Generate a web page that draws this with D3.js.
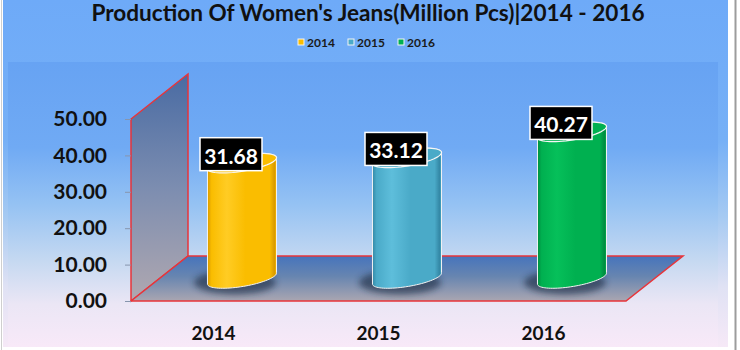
<!DOCTYPE html>
<html>
<head>
<meta charset="utf-8">
<script src="https://cdn.jsdelivr.net/npm/d3@7"></script>
<style>
  html, body { margin: 0; padding: 0; background: #ffffff; }
  svg text { font-family: Lato, "Open Sans", sans-serif; font-weight: bold; }
</style>
</head>
<body>
<div id="chart"></div>
<script>
'use strict';

// data
const categories = ['2014', '2015', '2016'];
const values = [31.68, 33.12, 40.27];
const yTicks = [0, 10, 20, 30, 40, 50];
const title = "Production Of Women's Jeans(Million Pcs)|2014 - 2016";

// colours per year: [base, dark edge, light band]
const seriesColors = [
    ['#fabd00', '#d99a00', '#ffcc24'],
    ['#4aaac8', '#3488a6', '#5ebedb'],
    ['#00b050', '#008c40', '#06c05a']
];

const width = 740, height = 350;
const depthX = 57, depthY = -45;   // 3d offset of the back edge
const tilt = -9.5 * Math.PI / 180;

const svg = d3.select('#chart').append('svg')
    .attr('width', width)
    .attr('height', height);

const defs = svg.append('defs');

function vGradient(id, stops, y1, y2) {
    const g = defs.append('linearGradient').attr('id', id)
        .attr('gradientUnits', 'userSpaceOnUse')
        .attr('x1', 0).attr('x2', 0).attr('y1', y1).attr('y2', y2);
    stops.forEach(s => g.append('stop').attr('offset', s[0]).attr('stop-color', s[1]));
}

vGradient('bgGrad', [[0, '#6eaaf8'], [0.4, '#76b0f6'], [0.62, '#a6caf2'], [0.82, '#e0e2f4'], [1, '#f7e9f7']], 0, 350);
vGradient('panelGrad', [[0, '#67a3f3'], [0.3, '#70aaf4'], [0.5, '#95c2f3'], [0.7, '#c6d9f1'], [0.85, '#ebe6f5'], [1, '#f8e9f8']], 62, 347);
vGradient('wallGrad', [[0, '#496ba3'], [0.5, '#7c8db0'], [1, '#b0a8b0']], 74, 301);
vGradient('floorGrad', [[0, '#4674bc'], [0.45, '#6785b0'], [1, '#aaa6b1']], 256, 301);

seriesColors.forEach((c, i) => {
    const g = defs.append('linearGradient').attr('id', 'cyl' + i)
        .attr('x1', 0).attr('x2', 1).attr('y1', 0).attr('y2', 0);
    [[0, c[1]], [0.06, c[0]], [0.28, c[2]], [0.55, c[0]], [0.9, c[0]], [0.97, c[1]], [1, c[0]]]
        .forEach(s => g.append('stop').attr('offset', s[0]).attr('stop-color', s[1]));
});

defs.append('filter').attr('id', 'blur')
    .attr('x', '-50%').attr('y', '-50%').attr('width', '200%').attr('height', '200%')
    .append('feGaussianBlur').attr('stdDeviation', 3);

// backgrounds
svg.append('rect').attr('x', 3).attr('y', 0).attr('width', 725).attr('height', 347)
    .attr('fill', 'url(#bgGrad)');
svg.append('rect').attr('x', 8).attr('y', 62).attr('width', 710).attr('height', 285)
    .attr('fill', 'url(#panelGrad)');
svg.append('line').attr('x1', 735.5).attr('x2', 735.5).attr('y1', 0).attr('y2', 350)
    .attr('stroke', '#9c9c9c').attr('stroke-width', 2);
svg.append('line').attr('x1', 1.5).attr('x2', 1.5).attr('y1', 0).attr('y2', 350)
    .attr('stroke', '#cfcfcf').attr('stroke-width', 1);

// title + legend
svg.append('text')
    .attr('x', 368).attr('y', 21)
    .attr('text-anchor', 'middle')
    .attr('font-size', 22.6)
    .attr('fill', '#111')
    .text(title);

const legend = svg.append('g').selectAll('g')
    .data(categories)
    .join('g')
    .attr('transform', (d, i) => `translate(${301 + i * 50},42)`);
legend.append('rect')
    .attr('x', -3).attr('y', -3).attr('width', 6).attr('height', 6)
    .attr('fill', (d, i) => seriesColors[i][0])
    .attr('stroke', '#f4f4f4').attr('stroke-width', 1);
legend.append('text')
    .attr('x', 6).attr('y', 0)
    .attr('dominant-baseline', 'central')
    .attr('font-size', 12)
    .attr('fill', '#1a1a1a')
    .text(d => d);

// scales
const y = d3.scaleLinear().domain([0, 50]).range([301, 119]);
const x = d3.scaleBand().domain(categories).range([131, 626]);

const x0 = x.range()[0], x1 = x.range()[1];
const yBase = y(0), yTop = y(50);

// side wall
svg.append('path')
    .attr('d', `M${x0},${yBase}L${x0},${yTop}L${x0 + depthX},${yTop + depthY}L${x0 + depthX},${yBase + depthY}Z`)
    .attr('fill', 'url(#wallGrad)')
    .attr('stroke', '#e8343a').attr('stroke-width', 1.5);

// floor
svg.append('path')
    .attr('d', `M${x0},${yBase}L${x0 + depthX},${yBase + depthY}L${x1 + depthX},${yBase + depthY}L${x1},${yBase}Z`)
    .attr('fill', 'url(#floorGrad)')
    .attr('stroke', '#e8343a').attr('stroke-width', 1.5);

// y axis
const yAxis = svg.append('g')
    .attr('transform', `translate(${x0},0)`)
    .call(d3.axisLeft(y).tickValues(yTicks).tickFormat(d3.format('.2f')).tickSize(6).tickPadding(18));
yAxis.select('.domain').remove();
yAxis.selectAll('.tick line').attr('stroke', '#8795ad');
yAxis.selectAll('.tick text')
    .attr('font-size', 21)
    .attr('font-family', 'Lato, sans-serif')
    .attr('font-weight', 'bold')
    .attr('fill', '#111');

// x axis labels
const xAxis = svg.append('g')
    .attr('transform', `translate(0,${yBase})`)
    .call(d3.axisBottom(x).tickSize(0).tickPadding(26));
xAxis.select('.domain').remove();
xAxis.selectAll('.tick text')
    .attr('font-size', 19)
    .attr('font-family', 'Lato, sans-serif')
    .attr('font-weight', 'bold')
    .attr('fill', '#111');

// cylinders
const rx = 35, ry = 8;

function ePoint(cx, cy, t) {
    const ex = rx * Math.cos(t), ey = ry * Math.sin(t);
    return [cx + ex * Math.cos(tilt) - ey * Math.sin(tilt),
            cy + ex * Math.sin(tilt) + ey * Math.cos(tilt)];
}

function arcPts(cx, cy, t0, t1, n) {
    return d3.range(n + 1).map(k => ePoint(cx, cy, t0 + (t1 - t0) * k / n));
}

const bars = categories.map((c, i) => ({
    cat: c,
    value: values[i],
    i: i,
    cx: x(c) + x.bandwidth() / 2 + depthX / 2,
    yb: yBase + depthY / 2,
    yt: y(values[i]) + depthY / 2
}));

const line = d3.line();
const cyl = svg.append('g').selectAll('g')
    .data(bars)
    .join('g');

cyl.append('ellipse')
    .attr('cx', d => d.cx - 7).attr('cy', d => d.yb + 4)
    .attr('rx', rx + 6).attr('ry', ry + 4)
    .attr('fill', '#17253d').attr('opacity', 0.6)
    .attr('filter', 'url(#blur)');

cyl.append('path')
    .attr('d', d => {
        const pts = [ePoint(d.cx, d.yt, Math.PI)]
            .concat(arcPts(d.cx, d.yb, Math.PI, 0, 40))
            .concat(arcPts(d.cx, d.yt, 0, -Math.PI, 40));
        return line(pts) + 'Z';
    })
    .attr('fill', d => `url(#cyl${d.i})`)
    .attr('stroke', '#f2f2f2').attr('stroke-width', 1);

cyl.append('path')
    .attr('d', d => line(arcPts(d.cx, d.yt, 0, 2 * Math.PI, 60)) + 'Z')
    .attr('fill', d => seriesColors[d.i][0])
    .attr('stroke', '#f6f6f6').attr('stroke-width', 1.2);

// value labels
const lab = cyl.append('g')
    .attr('transform', d => `translate(${d.cx - 11},${d.yt - 9})`);
lab.append('rect')
    .attr('x', -31).attr('y', -16.5).attr('width', 62).attr('height', 33)
    .attr('fill', '#000').attr('stroke', '#ffffff').attr('stroke-width', 1.5);
lab.append('text')
    .attr('text-anchor', 'middle')
    .attr('dominant-baseline', 'central')
    .attr('y', 1)
    .attr('font-size', 21)
    .attr('fill', '#fff')
    .text(d => d.value.toFixed(2));
</script>
</body>
</html>
